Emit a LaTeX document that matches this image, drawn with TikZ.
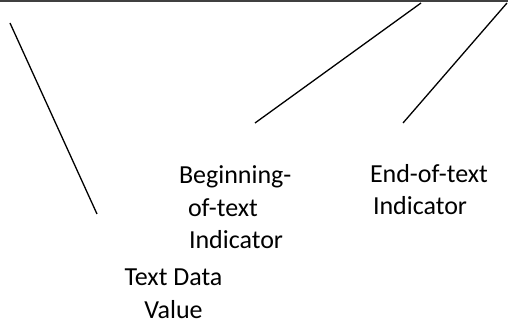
\documentclass[tikz,border=0pt]{standalone}
\usepackage{fontspec}
\setmainfont{Carlito}
\begin{document}
\begin{tikzpicture}[x=1pt,y=-1pt,
  lbl/.style={inner sep=0pt,outer sep=0pt,font=\fontsize{26}{32.5}\selectfont},
  ptr/.style={draw=black,line width=1.3pt},
  topline/.style={draw=black!75,line width=2.2pt}]
\useasboundingbox[fill=white] (0,0) rectangle (508,328);
\coordinate (tl) at (0,1);
\coordinate (tr) at (508,1);
\draw[topline] (tl) -- (tr);
\coordinate (a1) at (10,23);
\coordinate (a2) at (97,214);
\coordinate (b1) at (421,3);
\coordinate (b2) at (255,123);
\coordinate (c1) at (507,3);
\coordinate (c2) at (403,123);
\draw[ptr] (a1) -- (a2);
\draw[ptr] (b1) -- (b2);
\draw[ptr] (c1) -- (c2);
\node[lbl,anchor=base west,align=left] (beg) at (179,249) {Beginning-\\\hspace*{9pt}of-text\\\hspace*{10pt}Indicator};
\node[lbl,anchor=base west,align=left] (end) at (370,215) {End-of-text\\\hspace*{3pt}Indicator};
\node[lbl,anchor=base,align=center] (tdv) at (173.5,318) {Text Data\\Value};
\end{tikzpicture}
\end{document}
